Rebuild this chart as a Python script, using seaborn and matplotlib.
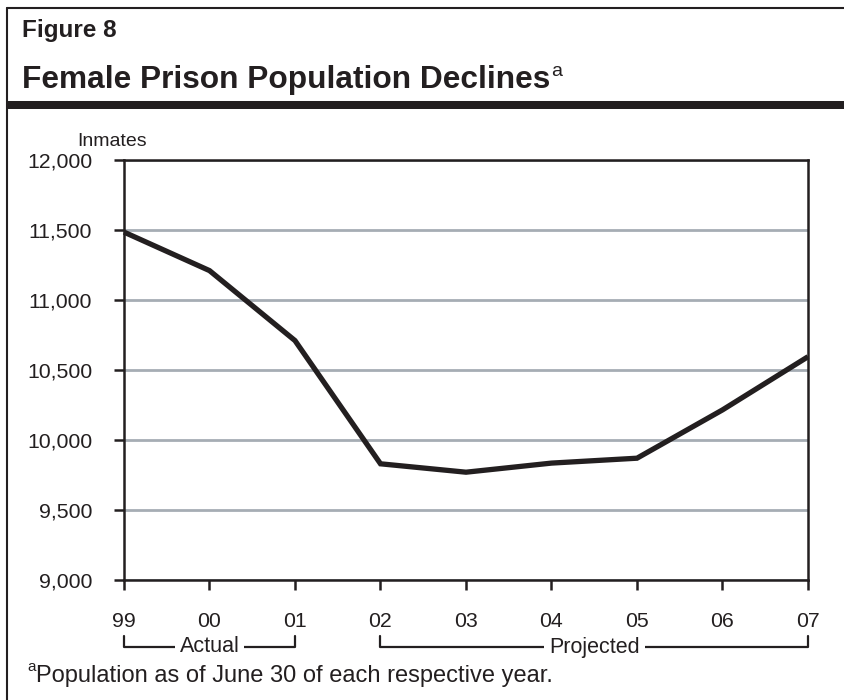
import matplotlib
matplotlib.use("Agg")
import matplotlib.pyplot as plt
import matplotlib.transforms as mtransforms
from matplotlib.lines import Line2D
from matplotlib.patches import Rectangle
import seaborn as sns
import pandas as pd

# Female inmate population, June 30 of each year (99-01 actual, 02-07 projected)
years = ["99", "00", "01", "02", "03", "04", "05", "06", "07"]
inmates = [11485, 11210, 10710, 9830, 9770, 9835, 9870, 10215, 10595]
y_ticks = [9000, 9500, 10000, 10500, 11000, 11500, 12000]
period_labels = ["Actual", "Projected"]
period_spans = [("99", "01"), ("02", "07")]

sns.set_theme(style="white")
plt.rcParams["font.family"] = ["Liberation Sans", "DejaVu Sans"]

INK = "#231f20"
GRID = "#a6adb4"
W, H = 845, 700

df = pd.DataFrame({"pos": range(len(years)), "inmates": inmates})

fig = plt.figure(figsize=(W / 100, H / 100), dpi=100)
fig.patch.set_facecolor("white")


def fx(px):
    return px / W


def fy(py):
    return 1 - py / H


ax = fig.add_axes([fx(124), fy(580), fx(808) - fx(124), fy(160) - fy(580)])
ax.set_facecolor("white")

sns.lineplot(data=df, x="pos", y="inmates", ax=ax, color=INK, linewidth=3.8,
             solid_joinstyle="miter", solid_capstyle="butt", clip_on=False,
             zorder=5)

ax.set_xlim(0, len(years) - 1)
ax.set_ylim(y_ticks[0], y_ticks[-1])
ax.set_xticks(range(len(years)))
ax.set_xticklabels(years)
ax.set_yticks(y_ticks)
ax.set_yticklabels([f"{v:,}" for v in y_ticks])
ax.set_xlabel("")
ax.set_ylabel("")

ax.yaxis.grid(True, color=GRID, linewidth=2.0)
ax.xaxis.grid(False)
ax.set_axisbelow(True)

for side in ["left", "right", "top", "bottom"]:
    ax.spines[side].set_visible(True)
    ax.spines[side].set_color(INK)
    ax.spines[side].set_linewidth(1.8)

ax.tick_params(axis="both", direction="out", length=7, width=1.8, color=INK,
               labelsize=15.3, labelcolor=INK, bottom=True, left=True)
ax.tick_params(axis="y", pad=16)
ax.tick_params(axis="x", pad=16)

# Period brackets under the year labels
blend = mtransforms.blended_transform_factory(ax.transData, ax.transAxes)
y_bar = (580 - 647) / 420
y_tip = (580 - 636) / 420
for label, (a, b) in zip(period_labels, period_spans):
    x0, x1 = years.index(a), years.index(b)
    ax.add_line(Line2D([x0, x0, x1, x1], [y_tip, y_bar, y_bar, y_tip],
                       transform=blend, color=INK, linewidth=1.6,
                       clip_on=False))
    ax.text((x0 + x1) / 2, y_bar, label, transform=blend, ha="center",
            va="center", fontsize=15.5, color=INK, clip_on=False,
            bbox=dict(facecolor="white", edgecolor="none", pad=3.5))

fig.text(fx(112), fy(142), "Inmates", ha="center", va="center",
         fontsize=14, color=INK)

# Outer frame and header rule
fig.add_artist(Line2D([fx(7.5), fx(7.5)], [0, fy(8)], transform=fig.transFigure,
                      color=INK, linewidth=1.5))
fig.add_artist(Line2D([fx(7.5), 1], [fy(8), fy(8)], transform=fig.transFigure,
                      color=INK, linewidth=1.5))
fig.add_artist(Rectangle((fx(7), fy(109)), 1, 8 / H, transform=fig.transFigure,
                         facecolor=INK, edgecolor="none"))

fig.text(fx(22), fy(37), "Figure 8", ha="left", va="baseline",
         fontsize=17.5, fontweight="bold", color=INK)
title = fig.text(fx(22), fy(88), "Female Prison Population Declines",
                 ha="left", va="baseline", fontsize=22.8, fontweight="bold",
                 color=INK)

fig.canvas.draw()
bb = title.get_window_extent()
fig.text(bb.x1 / W + fx(1), fy(76), "a", ha="left", va="baseline",
         fontsize=14, color=INK)

fig.text(fx(27), fy(671), "a", ha="left", va="baseline", fontsize=11,
         color=INK)
fig.text(fx(36), fy(682), "Population as of June 30 of each respective year.",
         ha="left", va="baseline", fontsize=17, color=INK)

fig.savefig("out.png", dpi=100, facecolor="white")
